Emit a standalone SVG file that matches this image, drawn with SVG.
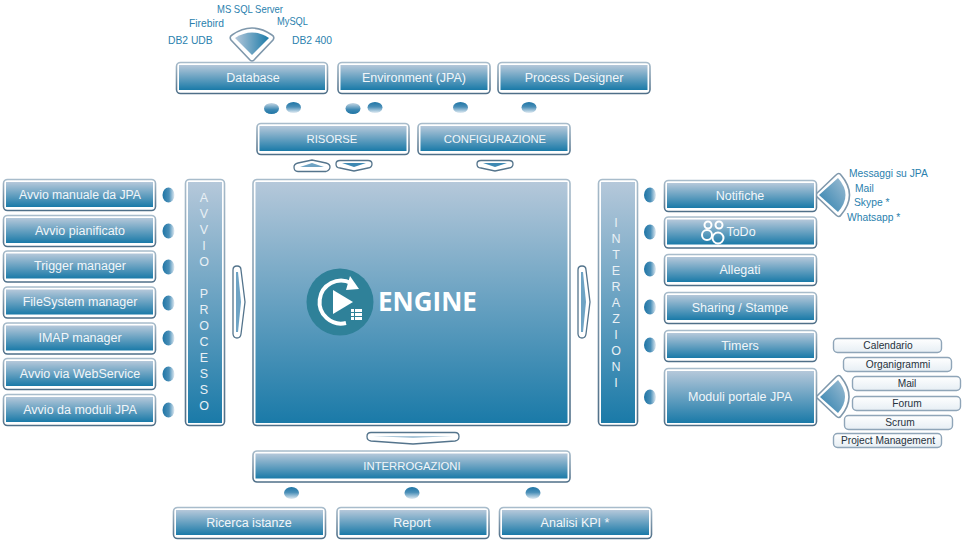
<svg xmlns="http://www.w3.org/2000/svg" width="965" height="542" viewBox="0 0 965 542">
<defs>
<linearGradient id="g" x1="0" y1="0" x2="0" y2="1"><stop offset="0" stop-color="#b5c8da"/><stop offset="1" stop-color="#1a7aa8"/></linearGradient>
<linearGradient id="st" x1="0" y1="0" x2="0" y2="1"><stop offset="0" stop-color="#a8bccb"/><stop offset="1" stop-color="#4f6f88"/></linearGradient>
<linearGradient id="gd" x1="0" y1="0" x2="0" y2="1"><stop offset="0" stop-color="#1f75a5"/><stop offset="0.45" stop-color="#4a8fb8"/><stop offset="1" stop-color="#e3ecf3"/></linearGradient>
<linearGradient id="gu" x1="0" y1="0" x2="0" y2="1"><stop offset="0" stop-color="#c5d6e3"/><stop offset="0.6" stop-color="#3d88b3"/><stop offset="1" stop-color="#1f75a5"/></linearGradient>
<linearGradient id="gr" x1="0" y1="0" x2="1" y2="0"><stop offset="0" stop-color="#1f75a5"/><stop offset="0.55" stop-color="#4a8fb8"/><stop offset="1" stop-color="#e3ecf3"/></linearGradient>
<linearGradient id="gh" x1="0" y1="0" x2="1" y2="0"><stop offset="0" stop-color="#b5c8da"/><stop offset="1" stop-color="#1a7aa8"/></linearGradient>
<linearGradient id="gf" x1="1" y1="0" x2="0" y2="1"><stop offset="0" stop-color="#9dbdd3"/><stop offset="1" stop-color="#2c7fad"/></linearGradient>
<linearGradient id="gs" x1="0" y1="0" x2="0" y2="1"><stop offset="0" stop-color="#ffffff"/><stop offset="1" stop-color="#e6eef4"/></linearGradient>
</defs>
<style>
.o{fill:#fff;stroke:url(#st);stroke-width:1.6}
.i{fill:url(#g)}
.t{font-family:"Liberation Sans",Arial,sans-serif;font-size:12.5px;fill:#f2f6f9;text-anchor:middle}
.c{font-family:"Liberation Sans",Arial,sans-serif;font-size:11.3px;fill:#f2f6f9;text-anchor:middle}
.v{font-family:"Liberation Sans",Arial,sans-serif;font-size:12.5px;fill:#e9f0f5;text-anchor:middle}
.l{font-family:"Liberation Sans",Arial,sans-serif;font-size:10.3px;fill:#2a7fae}
.m{font-family:"Liberation Sans",Arial,sans-serif;font-size:10.2px;fill:#26323c;text-anchor:middle}
.s{fill:#fff;stroke:#54748c;stroke-width:1.3}
.w{fill:#fff;stroke:#7f98ac;stroke-width:1.6}
.b{fill:url(#gs);stroke:#8fa5b8;stroke-width:1.4}
.f{fill:url(#gf)}
</style>
<g id="connectors">
<ellipse cx="271.500" cy="108.500" rx="7.500" ry="5.500" fill="url(#gu)"/>
<ellipse cx="293.500" cy="107.500" rx="7.500" ry="5.500" fill="url(#gd)"/>
<ellipse cx="353" cy="108.500" rx="7.500" ry="5.500" fill="url(#gu)"/>
<ellipse cx="375" cy="107.500" rx="7.500" ry="5.500" fill="url(#gd)"/>
<ellipse cx="460.500" cy="107.500" rx="7.500" ry="5.500" fill="url(#gd)"/>
<ellipse cx="529" cy="107.500" rx="7.500" ry="5.500" fill="url(#gd)"/>
<ellipse cx="291.500" cy="493" rx="7.500" ry="6" fill="url(#gd)"/>
<ellipse cx="412" cy="493" rx="7.500" ry="6" fill="url(#gd)"/>
<ellipse cx="533" cy="493" rx="7.500" ry="6" fill="url(#gd)"/>
<g fill="url(#gr)">
<ellipse cx="168.500" cy="195" rx="6" ry="7.500"/><ellipse cx="168.500" cy="231" rx="6" ry="7.500"/><ellipse cx="168.500" cy="267" rx="6" ry="7.500"/><ellipse cx="168.500" cy="303" rx="6" ry="7.500"/><ellipse cx="168.500" cy="338" rx="6" ry="7.500"/><ellipse cx="168.500" cy="374" rx="6" ry="7.500"/><ellipse cx="168.500" cy="410" rx="6" ry="7.500"/>
<ellipse cx="650" cy="195" rx="6" ry="7.500"/><ellipse cx="650" cy="232" rx="6" ry="7.500"/><ellipse cx="650" cy="269" rx="6" ry="7.500"/><ellipse cx="650" cy="307" rx="6" ry="7.500"/><ellipse cx="650" cy="345" rx="6" ry="7.500"/><ellipse cx="650" cy="397" rx="6" ry="7.500"/>
</g>
<path class="s" d="M294 167q0-3 4-4l14-3 14 3q4 1 4 4t-4 4.500h-28q-4 0-4-4.500z"/>
<path d="M300 167l12-4 12 4z" fill="#6ea3c4"/>
<path class="s" d="M336 164q0-3.500 4-3.500h28q4 0 4 3.500t-4 4l-14 3-14-3q-4 0-4-4z"/>
<path d="M342 163h24l-12 4z" fill="#3d88b3"/>
<path class="s" d="M477 164q0-3.500 4-3.500h28q4 0 4 3.500t-4 4l-14 3-14-3q-4 0-4-4z"/>
<path d="M483 163h24l-12 4z" fill="#3d88b3"/>
<path class="s" d="M367 436.500q0-4 4-4h84q4 0 4 4t-4 4.500l-42 3-42-3q-4-.5-4-4.500z"/>
<path d="M373 436h80l-40 2z" fill="#a9c6d9"/>
<path class="s" d="M233 270q0-4 4-4t4 4l4 32-4 32q-.5 4-4 4t-4-4z"/>
<path d="M236 272l2 0 3 30-3 30h-2z" fill="#6ea3c4"/>
<path class="s" d="M578 270q0-4 4-4t4 4l4 32-4 32q-.5 4-4 4t-4-4z"/>
<path d="M581 272l2 0 3 30-3 30h-2z" fill="#6ea3c4"/>
<path class="w" d="M232 35Q252 21 272 35q3 2 1 5L254 60q-2 2-4 0L231 40q-2-3 1-5z"/>
<path d="M235 38Q252 27 269 38L252 55z" fill="url(#gh)"/>
<path class="w" d="M815 195L836 175q3-3 5 0Q858 195 841 215q-2 3-5 0z"/>
<path class="f" d="M819 195L838 178Q853 195 838 212z"/>
<path class="w" d="M816 397L836 377q3-3 5 0Q857 397 841 416q-2 3-5 0z"/>
<path class="f" d="M820 397L838 380Q852 397 838 413z"/>
</g>
<g id="database"><rect class="o" x="176.500" y="62.500" width="151" height="31" rx="4"/><rect class="i" x="179" y="65" width="146" height="25"/><text class="t" x="253" y="82">Database</text></g>
<g id="environment"><rect class="o" x="338" y="62.500" width="152" height="31" rx="4"/><rect class="i" x="340.500" y="65" width="147" height="25"/><text class="t" x="414" y="82">Environment (JPA)</text></g>
<g id="designer"><rect class="o" x="498" y="62.500" width="152" height="31" rx="4"/><rect class="i" x="500.500" y="65" width="147" height="25"/><text class="t" x="574" y="82">Process Designer</text></g>
<g id="risorse"><rect class="o" x="257" y="123.500" width="152" height="31" rx="4"/><rect class="i" x="259.500" y="126" width="147" height="25"/><text class="c" x="332" y="143">RISORSE</text></g>
<g id="configurazione"><rect class="o" x="418" y="123.500" width="152" height="31" rx="4"/><rect class="i" x="420.500" y="126" width="147" height="25"/><text class="c" x="495" y="143">CONFIGURAZIONE</text></g>
<g id="db-labels"><text class="l" x="217" y="13" textLength="66" lengthAdjust="spacingAndGlyphs">MS SQL Server</text><text class="l" x="189" y="27">Firebird</text><text class="l" x="277" y="25" textLength="31" lengthAdjust="spacingAndGlyphs">MySQL</text><text class="l" x="168" y="44">DB2 UDB</text><text class="l" x="292" y="44">DB2 400</text></g>
<g id="n1"><rect class="o" x="3.500" y="179.500" width="152" height="31" rx="4"/><rect class="i" x="6" y="182" width="147" height="25"/><text class="t" x="80" y="199" textLength="122" lengthAdjust="spacingAndGlyphs">Avvio manuale da JPA</text></g>
<g id="n2"><rect class="o" x="3.500" y="215.500" width="152" height="31" rx="4"/><rect class="i" x="6" y="218" width="147" height="25"/><text class="t" x="80" y="235">Avvio pianificato</text></g>
<g id="n3"><rect class="o" x="3.500" y="251" width="152" height="31" rx="4"/><rect class="i" x="6" y="253.500" width="147" height="25"/><text class="t" x="80" y="270">Trigger manager</text></g>
<g id="n4"><rect class="o" x="3.500" y="287" width="152" height="31" rx="4"/><rect class="i" x="6" y="289.500" width="147" height="25"/><text class="t" x="80" y="306">FileSystem manager</text></g>
<g id="n5"><rect class="o" x="3.500" y="323" width="152" height="31" rx="4"/><rect class="i" x="6" y="325.500" width="147" height="25"/><text class="t" x="80" y="342">IMAP manager</text></g>
<g id="n6"><rect class="o" x="3.500" y="358.500" width="152" height="31" rx="4"/><rect class="i" x="6" y="361" width="147" height="25"/><text class="t" x="80" y="378">Avvio via WebService</text></g>
<g id="n7"><rect class="o" x="3.500" y="394.500" width="152" height="31" rx="4"/><rect class="i" x="6" y="397" width="147" height="25"/><text class="t" x="80" y="414">Avvio da moduli JPA</text></g>
<g id="avvio"><rect class="o" x="185.500" y="179.500" width="39" height="246" rx="4"/><rect class="i" x="188" y="182" width="34" height="241"/>
<text class="v" x="204" y="202">A</text><text class="v" x="204" y="218">V</text><text class="v" x="204" y="234">V</text><text class="v" x="204" y="250">I</text><text class="v" x="204" y="266">O</text><text class="v" x="204" y="298">P</text><text class="v" x="204" y="314">R</text><text class="v" x="204" y="330">O</text><text class="v" x="204" y="346">C</text><text class="v" x="204" y="362">E</text><text class="v" x="204" y="378">S</text><text class="v" x="204" y="394">S</text><text class="v" x="204" y="410">O</text></g>
<g id="engine"><rect class="o" x="253" y="179.500" width="317" height="246" rx="4"/><rect class="i" x="255.500" y="182" width="312" height="241"/>
<circle cx="340" cy="302" r="33.500" fill="#2f8199"/>
<path d="M351 283A21.500 21.500 0 1 0 346 323" fill="none" stroke="#fff" stroke-width="4"/>
<path d="M350 276l9 13-13 1z" fill="#fff"/>
<path d="M333 290l20 12-20 12z" fill="#fff"/>
<g fill="#fff"><rect x="351" y="309" width="3" height="3"/><rect x="355" y="309" width="7" height="3"/><rect x="351" y="313" width="3" height="3"/><rect x="355" y="313" width="7" height="3"/><rect x="351" y="317" width="3" height="3"/><rect x="355" y="317" width="7" height="3"/></g>
<text x="378" y="311" font-family="Open Sans,Liberation Sans,sans-serif" font-size="26" font-weight="700" fill="#fff">ENGINE</text></g>
<g id="interazioni"><rect class="o" x="598.500" y="179.500" width="39" height="246" rx="4"/><rect class="i" x="601" y="182" width="34" height="241"/>
<text class="v" x="616" y="227">I</text><text class="v" x="616" y="243">N</text><text class="v" x="616" y="259">T</text><text class="v" x="616" y="275">E</text><text class="v" x="616" y="291">R</text><text class="v" x="616" y="307">A</text><text class="v" x="616" y="323">Z</text><text class="v" x="616" y="339">I</text><text class="v" x="616" y="355">O</text><text class="v" x="616" y="371">N</text><text class="v" x="616" y="387">I</text></g>
<g id="notifiche"><rect class="o" x="664.500" y="180.500" width="152" height="31" rx="4"/><rect class="i" x="667" y="183" width="147" height="25"/><text class="t" x="740" y="200">Notifiche</text></g>
<g id="todo"><rect class="o" x="664.500" y="217" width="152" height="31" rx="4"/><rect class="i" x="667" y="219.500" width="147" height="25"/><text class="t" x="741" y="236">ToDo</text>
<g fill="none" stroke="#fff" stroke-width="2"><circle cx="708" cy="225" r="3.500"/><circle cx="719" cy="225" r="3.500"/><circle cx="707" cy="235" r="5"/><circle cx="718" cy="238" r="5.500"/></g></g>
<g id="allegati"><rect class="o" x="664.500" y="254.500" width="152" height="31" rx="4"/><rect class="i" x="667" y="257" width="147" height="25"/><text class="t" x="740" y="274">Allegati</text></g>
<g id="sharing"><rect class="o" x="664.500" y="292.500" width="152" height="31" rx="4"/><rect class="i" x="667" y="295" width="147" height="25"/><text class="t" x="740" y="312">Sharing / Stampe</text></g>
<g id="timers"><rect class="o" x="664.500" y="330.500" width="152" height="31" rx="4"/><rect class="i" x="667" y="333" width="147" height="25"/><text class="t" x="740" y="350">Timers</text></g>
<g id="moduli"><rect class="o" x="664.500" y="368.500" width="152" height="57" rx="4"/><rect class="i" x="667" y="371" width="147" height="52"/><text class="t" x="740" y="401">Moduli portale JPA</text></g>
<g id="notif-labels"><text class="l" x="849" y="177">Messaggi su JPA</text><text class="l" x="855" y="192">Mail</text><text class="l" x="854" y="206">Skype *</text><text class="l" x="847" y="221">Whatsapp *</text></g>
<g id="m1"><rect class="b" x="833.500" y="338.500" width="108" height="14" rx="4"/><text class="m" x="888" y="349">Calendario</text></g>
<g id="m2"><rect class="b" x="843.500" y="357.500" width="108" height="14" rx="4"/><text class="m" x="898" y="368">Organigrammi</text></g>
<g id="m3"><rect class="b" x="852.500" y="376.500" width="108" height="14" rx="4"/><text class="m" x="907" y="387">Mail</text></g>
<g id="m4"><rect class="b" x="852.500" y="396.500" width="108" height="14" rx="4"/><text class="m" x="907" y="407">Forum</text></g>
<g id="m5"><rect class="b" x="844.500" y="415.500" width="108" height="14" rx="4"/><text class="m" x="900" y="426">Scrum</text></g>
<g id="m6"><rect class="b" x="833.500" y="433.500" width="108" height="14" rx="4"/><text class="m" x="888" y="444">Project Management</text></g>
<g id="interrogazioni"><rect class="o" x="253" y="451" width="317" height="31" rx="4"/><rect class="i" x="255.500" y="453.500" width="312" height="25"/><text class="c" x="412" y="470">INTERROGAZIONI</text></g>
<g id="ricerca"><rect class="o" x="173.500" y="507.500" width="152" height="31" rx="4"/><rect class="i" x="176" y="510" width="147" height="25"/><text class="t" x="249" y="527">Ricerca istanze</text></g>
<g id="report"><rect class="o" x="337" y="507.500" width="152" height="31" rx="4"/><rect class="i" x="339.500" y="510" width="147" height="25"/><text class="t" x="412" y="527">Report</text></g>
<g id="kpi"><rect class="o" x="499.500" y="507.500" width="152" height="31" rx="4"/><rect class="i" x="502" y="510" width="147" height="25"/><text class="t" x="575" y="527">Analisi KPI *</text></g>
</svg>
